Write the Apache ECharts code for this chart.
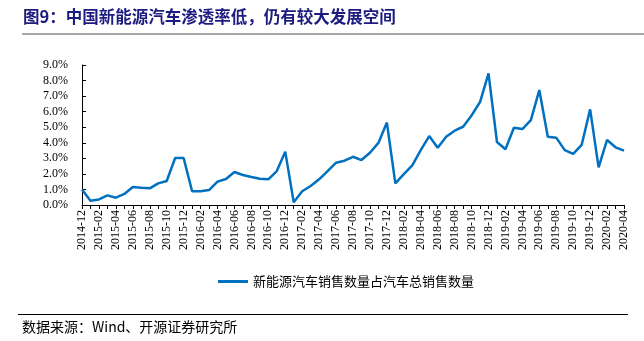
<!DOCTYPE html>
<html><head><meta charset="utf-8">
<script src="https://cdn.jsdelivr.net/npm/echarts@6/dist/echarts.min.js"></script>
<style>html,body{margin:0;padding:0;background:#fff}#c{width:644px;height:341px}</style>
</head><body><div id="c"></div>
<script>
const categories = ['2014-12','2015-01','2015-02','2015-03','2015-04','2015-05','2015-06','2015-07','2015-08','2015-09','2015-10','2015-11','2015-12',
'2016-01','2016-02','2016-03','2016-04','2016-05','2016-06','2016-07','2016-08','2016-09','2016-10','2016-11','2016-12',
'2017-01','2017-02','2017-03','2017-04','2017-05','2017-06','2017-07','2017-08','2017-09','2017-10','2017-11','2017-12',
'2018-01','2018-02','2018-03','2018-04','2018-05','2018-06','2018-07','2018-08','2018-09','2018-10','2018-11','2018-12',
'2019-01','2019-02','2019-03','2019-04','2019-05','2019-06','2019-07','2019-08','2019-09','2019-10','2019-11','2019-12',
'2020-01','2020-02','2020-03','2020-04'];
const penetration = [1.0,0.28,0.36,0.62,0.47,0.71,1.16,1.11,1.07,1.39,1.54,3.02,3.02,
0.88,0.88,0.96,1.5,1.67,2.12,1.93,1.8,1.69,1.65,2.18,3.43,
0.17,0.88,1.22,1.65,2.18,2.72,2.85,3.1,2.89,3.36,3.99,5.3,
1.39,1.99,2.55,3.53,4.43,3.68,4.39,4.78,5.03,5.76,6.62,8.46,
4.05,3.58,4.97,4.88,5.46,7.39,4.39,4.33,3.53,3.28,3.86,6.15,
2.42,4.18,3.71,3.49];
const seriesName = '新能源汽车销售数量占汽车总销售数量';
const titleText = '图9：中国新能源汽车渗透率低，仍有较大发展空间';
const sourceText = '数据来源：Wind、开源证券研究所';

const chart = echarts.init(document.getElementById('c'), null, {renderer:'canvas'});
const serif = 'Liberation Serif';
const cjk = 'Noto Sans CJK SC';
chart.setOption({
  animation:false,
  grid:{left:82,right:20,top:65,bottom:136},
  xAxis:{type:'category',data:categories,boundaryGap:false,
    axisLine:{lineStyle:{color:'#000',width:1}},
    axisTick:{show:true,interval:0,length:4,lineStyle:{color:'#000'}},
    axisLabel:{rotate:90,interval:1,color:'#000',fontSize:12,fontFamily:serif,margin:5}},
  yAxis:{type:'value',min:0,max:9,interval:1,
    axisLine:{show:true,lineStyle:{color:'#000',width:1}},
    axisTick:{show:true,inside:true,length:4,lineStyle:{color:'#000'}},
    splitLine:{show:false},
    axisLabel:{color:'#000',fontSize:12,fontFamily:serif,margin:14,formatter:v=>v.toFixed(1)+'%'}},
  legend:{left:213,top:270,icon:'rect',itemWidth:30,itemHeight:3,itemGap:4,
    textStyle:{fontSize:13,color:'#000',fontFamily:cjk},data:[seriesName]},
  series:[{name:seriesName,type:'line',data:penetration,symbol:'none',
    lineStyle:{color:'#0070c0',width:2.5},itemStyle:{color:'#0070c0'}}],
  graphic:[
    {type:'text',left:23,top:8,style:{text:titleText,fontSize:16.5,fontWeight:'bold',fill:'#1c1c80',fontFamily:cjk}},
    {type:'rect',shape:{x:22,y:33,width:622,height:2},style:{fill:'#a6a6a6'}},
    {type:'rect',shape:{x:18,y:314,width:610,height:1},style:{fill:'#000'}},
    {type:'text',left:22,top:320,style:{text:sourceText,fontSize:14,fill:'#000',fontFamily:cjk}}
  ]
});
</script></body></html>
